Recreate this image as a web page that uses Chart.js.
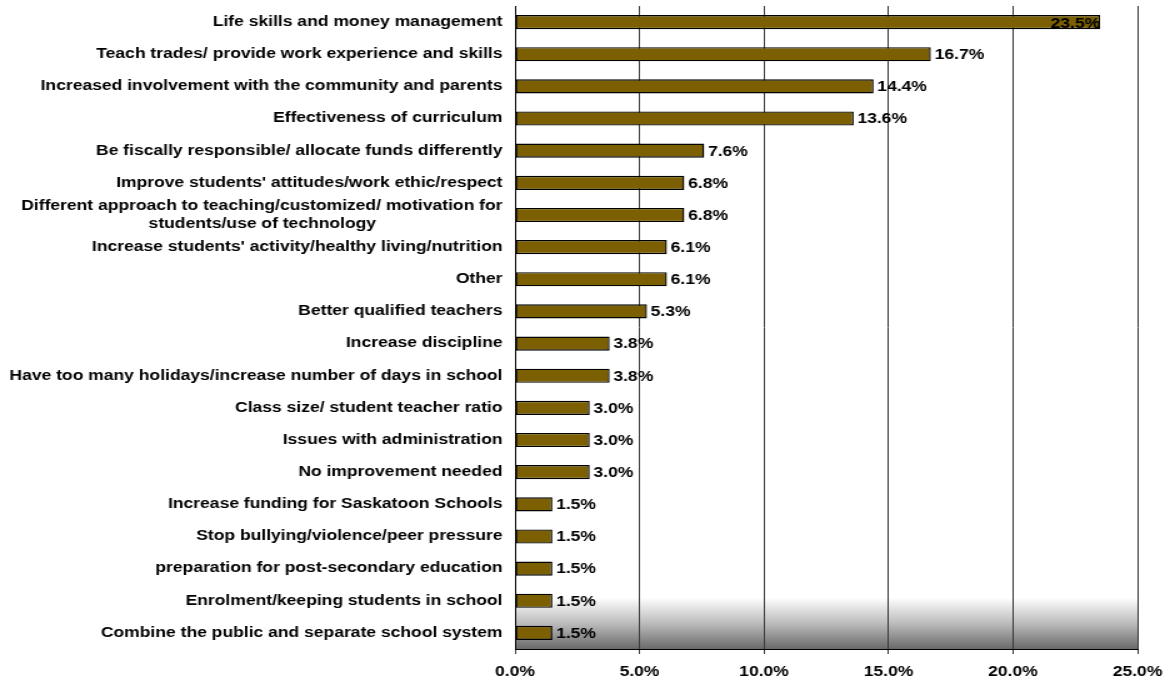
<!DOCTYPE html>
<html>
<head>
<meta charset="utf-8">
<script src="https://cdn.jsdelivr.net/npm/chart.js@4.4.1/dist/chart.umd.min.js"></script>
<style>
  html, body { margin: 0; padding: 0; background: #fff; overflow: hidden; }
  /* the original is stretched sideways, so draw narrow and stretch it */
  #wrap { width: 936px; height: 684px; transform: scaleX(1.25); transform-origin: 0 0; }
</style>
</head>
<body>
<div id="wrap"><canvas id="chart" width="936" height="684"></canvas></div>
<script>
const categories = [
    "Life skills and money management",
    "Teach trades/ provide work experience and skills",
    "Increased involvement with the community and parents",
    "Effectiveness of curriculum",
    "Be fiscally responsible/ allocate funds differently",
    "Improve students' attitudes/work ethic/respect",
    ["Different approach to teaching/customized/ motivation for", "students/use of technology"],
    "Increase students' activity/healthy living/nutrition",
    "Other",
    "Better qualified teachers",
    "Increase discipline",
    "Have too many holidays/increase number of days in school",
    "Class size/ student teacher ratio",
    "Issues with administration",
    "No improvement needed",
    "Increase funding for Saskatoon Schools",
    "Stop bullying/violence/peer pressure",
    "preparation for post-secondary education",
    "Enrolment/keeping students in school",
    "Combine the public and separate school system"
];
const shares = [23.5, 16.7, 14.4, 13.6, 7.6, 6.8, 6.8, 6.1, 6.1, 5.3, 3.8, 3.8, 3.0, 3.0, 3.0, 1.5, 1.5, 1.5, 1.5, 1.5];
const xMin = 0, xMax = 25, xStep = 5;

const fontFamily = '"Liberation Sans", Arial, sans-serif';
const boldFont = "bold 14px " + fontFamily;

// second line of a two-line label sits centred under the first
var measure = document.createElement("canvas").getContext("2d");
measure.font = boldFont;
function centreLines(lines) {
    var w1 = measure.measureText(lines[0]).width;
    var w2 = measure.measureText(lines[1]).width;
    var sp = measure.measureText(" ").width;
    var n = Math.round((w1 - w2) / 2 / sp);
    return [lines[0], lines[1] + " ".repeat(Math.max(0, n))];
}

// grey fade at the bottom of the plot area
const plotBackground = {
    id: "plotBackground",
    beforeDraw(chart) {
        var a = chart.chartArea, ctx = chart.ctx;
        var g = ctx.createLinearGradient(0, a.top, 0, a.bottom);
        g.addColorStop(0, "#ffffff");
        g.addColorStop(0.92, "#ffffff");
        g.addColorStop(0.96, "#bcbcbc");
        g.addColorStop(1, "#6a6a6a");
        ctx.save();
        ctx.fillStyle = g;
        ctx.fillRect(a.left, a.top, a.right - a.left, a.bottom - a.top);
        ctx.restore();
    }
};

// value labels at the end of each bar
const barLabels = {
    id: "barLabels",
    afterDatasetsDraw(chart) {
        var ctx = chart.ctx;
        var meta = chart.getDatasetMeta(0);
        ctx.save();
        ctx.font = boldFont;
        ctx.fillStyle = "#000";
        ctx.textBaseline = "middle";
        meta.data.forEach(function(bar, i) {
            var txt = shares[i].toFixed(1) + "%";
            if (i === 0) {
                ctx.textAlign = "right";
                ctx.fillText(txt, bar.x, bar.y + 2);
            } else {
                ctx.textAlign = "left";
                ctx.fillText(txt, bar.x + 3, bar.y + 1);
            }
        });
        ctx.restore();
    }
};

new Chart("chart", {
    type: "bar",
    data: {
        labels: categories,
        datasets: [{
            data: shares,
            backgroundColor: "#7b5f00",
            borderColor: "#000",
            borderWidth: 1.4,
            borderSkipped: false,
            barPercentage: 0.44,
            categoryPercentage: 1
        }]
    },
    options: {
        indexAxis: "y",
        responsive: false,
        animation: false,
        layout: { padding: { top: 6, right: 26, bottom: 0, left: 0 } },
        plugins: {
            legend: { display: false },
            tooltip: { enabled: false }
        },
        scales: {
            x: {
                min: xMin,
                max: xMax,
                afterFit: function(scale) {
                    scale.height = 35;
                    scale.paddingLeft = 0;
                    scale.paddingRight = 0;
                },
                grid: { color: "#3c3c3c", lineWidth: 1, tickLength: 5, tickColor: "#3c3c3c" },
                border: { display: true, color: "#000", width: 1 },
                ticks: {
                    stepSize: xStep,
                    padding: 10,
                    color: "#000",
                    font: { family: fontFamily, size: 14, weight: "bold" },
                    maxRotation: 0,
                    callback: function(v) { return v.toFixed(1) + "%"; }
                }
            },
            y: {
                afterFit: function(scale) {
                    scale.width = 412;
                    scale.paddingTop = 0;
                    scale.paddingBottom = 0;
                },
                grid: { display: false, drawTicks: false },
                border: { display: true, color: "#000", width: 1 },
                ticks: {
                    padding: 10,
                    color: "#000",
                    autoSkip: false,
                    font: { family: fontFamily, size: 14, weight: "bold", lineHeight: 1.3 },
                    callback: function(v) {
                        var l = categories[v];
                        return Array.isArray(l) ? centreLines(l) : l;
                    }
                }
            }
        }
    },
    plugins: [plotBackground, barLabels]
});
</script>
</body>
</html>
